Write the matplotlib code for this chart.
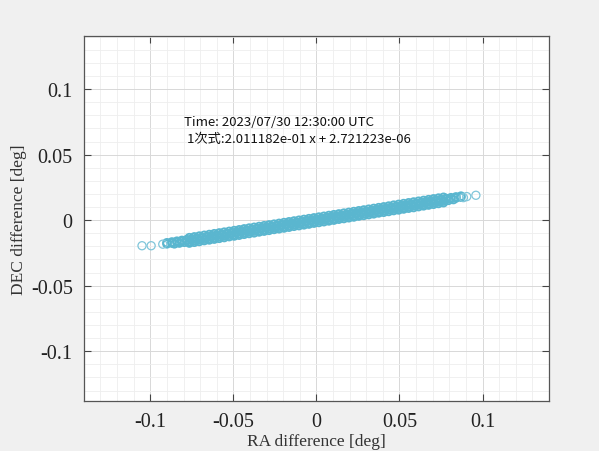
import matplotlib
matplotlib.use("Agg")
import matplotlib.pyplot as plt
from matplotlib.ticker import MultipleLocator

# ---- data ----
ra_mid = [-0.090, -0.087, -0.084, -0.081, -0.078, -0.075, -0.072, -0.069, -0.066, -0.063,
          -0.060, -0.057, -0.054, -0.051, -0.048, -0.045, -0.042, -0.039, -0.036, -0.033,
          -0.030, -0.027, -0.024, -0.021, -0.018, -0.015, -0.012, -0.009, -0.006, -0.003,
          0.000, 0.003, 0.006, 0.009, 0.012, 0.015, 0.018, 0.021, 0.024, 0.027,
          0.030, 0.033, 0.036, 0.039, 0.042, 0.045, 0.048, 0.051, 0.054, 0.057,
          0.060, 0.063, 0.066, 0.069, 0.072, 0.075, 0.078, 0.081, 0.084, 0.087]
dec_mid = [-0.0181, -0.0175, -0.0169, -0.0163, -0.0157, -0.0151, -0.0145, -0.0139, -0.0133, -0.0127,
           -0.0121, -0.0115, -0.0109, -0.0103, -0.0097, -0.0090, -0.0084, -0.0078, -0.0072, -0.0066,
           -0.0060, -0.0054, -0.0048, -0.0042, -0.0036, -0.0030, -0.0024, -0.0018, -0.0012, -0.0006,
           0.0000, 0.0006, 0.0012, 0.0018, 0.0024, 0.0030, 0.0036, 0.0042, 0.0048, 0.0054,
           0.0060, 0.0066, 0.0072, 0.0078, 0.0084, 0.0091, 0.0097, 0.0103, 0.0109, 0.0115,
           0.0121, 0.0127, 0.0133, 0.0139, 0.0145, 0.0151, 0.0157, 0.0163, 0.0169, 0.0175]
dec_mid_hi = [-0.0172, -0.0166, -0.0160, -0.0154, -0.0148, -0.0142, -0.0136, -0.0130, -0.0124, -0.0118,
              -0.0112, -0.0106, -0.0100, -0.0094, -0.0088, -0.0081, -0.0075, -0.0069, -0.0063, -0.0057,
              -0.0051, -0.0045, -0.0039, -0.0033, -0.0027, -0.0021, -0.0015, -0.0009, -0.0003, 0.0003,
              0.0009, 0.0015, 0.0021, 0.0027, 0.0033, 0.0039, 0.0045, 0.0051, 0.0057, 0.0063,
              0.0069, 0.0075, 0.0081, 0.0087, 0.0093, 0.0100, 0.0106, 0.0112, 0.0118, 0.0124,
              0.0130, 0.0136, 0.0142, 0.0148, 0.0154, 0.0160, 0.0166, 0.0172, 0.0178, 0.0184]

ra_half = [-0.0855, -0.0825, -0.0795, -0.0765, -0.0735, -0.0705, -0.0675, -0.0645, -0.0615, -0.0585,
           -0.0555, -0.0525, -0.0495, -0.0465, -0.0435, -0.0405, -0.0375, -0.0345, -0.0315, -0.0285,
           -0.0255, -0.0225, -0.0195, -0.0165, -0.0135, -0.0105, -0.0075, -0.0045, -0.0015, 0.0015,
           0.0045, 0.0075, 0.0105, 0.0135, 0.0165, 0.0195, 0.0225, 0.0255, 0.0285, 0.0315,
           0.0345, 0.0375, 0.0405, 0.0435, 0.0465, 0.0495, 0.0525, 0.0555, 0.0585, 0.0615,
           0.0645, 0.0675, 0.0705, 0.0735, 0.0765, 0.0795, 0.0825]
dec_half_lo = [-0.0181, -0.0175, -0.0169, -0.0163, -0.0157, -0.0151, -0.0145, -0.0139, -0.0133, -0.0127,
               -0.0121, -0.0115, -0.0109, -0.0103, -0.0097, -0.0090, -0.0084, -0.0078, -0.0072, -0.0066,
               -0.0060, -0.0054, -0.0048, -0.0042, -0.0036, -0.0030, -0.0024, -0.0018, -0.0012, -0.0006,
               0.0000, 0.0006, 0.0012, 0.0018, 0.0024, 0.0030, 0.0036, 0.0042, 0.0048, 0.0054,
               0.0060, 0.0066, 0.0072, 0.0078, 0.0084, 0.0091, 0.0097, 0.0103, 0.0109, 0.0115,
               0.0121, 0.0127, 0.0133, 0.0139, 0.0145, 0.0151, 0.0157]

ra_side = [-0.0765, -0.0735, -0.0705, -0.0675, -0.0645, -0.0615, -0.0585, -0.0555, -0.0525, -0.0495,
           -0.0465, -0.0435, -0.0405, -0.0375, -0.0345, -0.0315, -0.0285, -0.0255, -0.0225, -0.0195,
           -0.0165, -0.0135, -0.0105, -0.0075, -0.0045, -0.0015, 0.0015, 0.0045, 0.0075, 0.0105,
           0.0135, 0.0165, 0.0195, 0.0225, 0.0255, 0.0285, 0.0315, 0.0345, 0.0375, 0.0405,
           0.0435, 0.0465, 0.0495, 0.0525, 0.0555, 0.0585, 0.0615, 0.0645, 0.0675, 0.0705,
           0.0735, 0.0765]
dec_upper = [-0.0133, -0.0127, -0.0121, -0.0115, -0.0109, -0.0103, -0.0097, -0.0091, -0.0085, -0.0079,
             -0.0073, -0.0066, -0.0060, -0.0054, -0.0048, -0.0042, -0.0036, -0.0030, -0.0024, -0.0018,
             -0.0012, -0.0006, 0.0000, 0.0006, 0.0012, 0.0018, 0.0024, 0.0030, 0.0036, 0.0042,
             0.0048, 0.0054, 0.0060, 0.0066, 0.0072, 0.0078, 0.0084, 0.0090, 0.0096, 0.0102,
             0.0108, 0.0115, 0.0121, 0.0127, 0.0133, 0.0139, 0.0145, 0.0151, 0.0157, 0.0163,
             0.0169, 0.0175]
dec_lower = [-0.0175, -0.0169, -0.0163, -0.0156, -0.0151, -0.0145, -0.0139, -0.0133, -0.0126, -0.0121,
             -0.0115, -0.0108, -0.0102, -0.0097, -0.0090, -0.0084, -0.0078, -0.0071, -0.0066, -0.0060,
             -0.0054, -0.0047, -0.0042, -0.0036, -0.0030, -0.0023, -0.0018, -0.0012, -0.0006, 0.0000,
             0.0007, 0.0012, 0.0018, 0.0024, 0.0031, 0.0036, 0.0042, 0.0048, 0.0055, 0.0060,
             0.0066, 0.0073, 0.0078, 0.0085, 0.0091, 0.0096, 0.0103, 0.0109, 0.0115, 0.0121,
             0.0127, 0.0133]

ra_out = [-0.1050, -0.0995, -0.0925, 0.0885, 0.0905, 0.0960]
dec_out = [-0.0195, -0.0195, -0.0183, 0.0172, 0.0180, 0.0190]

xticks = [-0.1, -0.05, 0, 0.05, 0.1]
yticks = [-0.1, -0.05, 0, 0.05, 0.1]
xticklabels = ["-0.1", "-0.05", "0", "0.05", "0.1"]
yticklabels = ["-0.1", "-0.05", "0", "0.05", "0.1"]

info_lines = ["Time: 2023/07/30 12:30:00 UTC", " 1次式:2.011182e-01 x + 2.721223e-06"]

# ---- figure ----
fig = plt.figure(figsize=(5.99, 4.52), dpi=100, facecolor="#f0f0f0")
ax = fig.add_axes([0.140, 0.1106, 0.7765, 0.8074])
ax.set_facecolor("white")

ra_all = ra_mid + ra_mid + ra_half + ra_side + ra_side
dec_all = dec_mid + dec_mid_hi + dec_half_lo + dec_upper + dec_lower
ax.scatter(ra_all, dec_all, s=30, facecolors="none", edgecolors="#5ab6cf", linewidths=1.3, zorder=3)
ax.scatter(ra_out, dec_out, s=34, facecolors="none", edgecolors="#80c6da", linewidths=0.9, zorder=3)

ax.set_xlim(-0.14, 0.14)
ax.set_ylim(-0.138, 0.1405)
ax.set_xticks(xticks)
ax.set_xticklabels(xticklabels)
ax.set_yticks(yticks)
ax.set_yticklabels(yticklabels)
ax.xaxis.set_minor_locator(MultipleLocator(0.01))
ax.yaxis.set_minor_locator(MultipleLocator(0.01))

ax.grid(which="major", color="#d8d8d8", linewidth=0.7, zorder=0)
ax.grid(which="minor", color="#eeeeee", linewidth=0.6, zorder=0)
ax.set_axisbelow(True)

serif = ["Liberation Serif", "DejaVu Serif"]
ax.tick_params(which="major", direction="in", length=5, width=0.8, colors="#444444",
               top=True, right=True, labelsize=14.5, pad=8, labelcolor="#222222")
ax.tick_params(which="minor", length=0, top=True, right=True)
for lab in ax.get_xticklabels() + ax.get_yticklabels():
    lab.set_fontfamily(serif)

for sp in ax.spines.values():
    sp.set_color("#555555")
    sp.set_linewidth(0.9)

ax.set_xlabel("RA difference [deg]", fontfamily=serif, fontsize=12.5, color="#333333", labelpad=1)
ax.set_ylabel("DEC difference [deg]", fontfamily=serif, fontsize=12.5, color="#333333", labelpad=3)

cjk = ["Noto Sans CJK JP", "DejaVu Sans"]
ax.text(-0.0795, 0.0756, info_lines[0], fontfamily=cjk, fontsize=9.5, color="#111111",
        ha="left", va="center")
ax.text(-0.0795, 0.0626, info_lines[1], fontfamily=cjk, fontsize=9.5, color="#111111",
        ha="left", va="center")

fig.savefig("out.png", dpi=100, facecolor=fig.get_facecolor())
